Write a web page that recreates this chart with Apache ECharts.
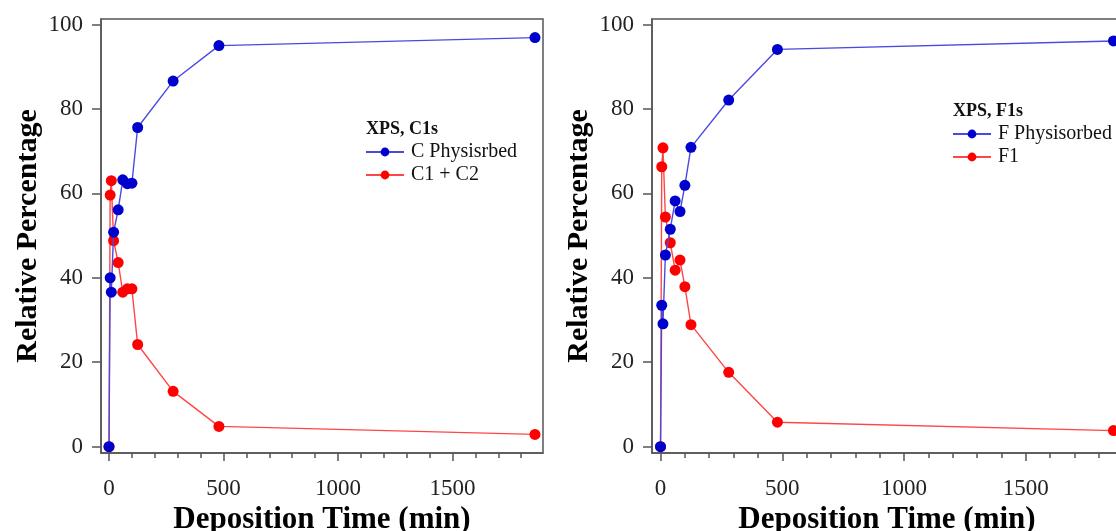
<!DOCTYPE html>
<html>
<head>
<meta charset="utf-8">
<script src="https://cdn.jsdelivr.net/npm/echarts@6/dist/echarts.min.js"></script>
<style>
  html, body { margin: 0; padding: 0; background: #fff; }
  #chart { width: 1116px; height: 531px; }
</style>
</head>
<body>
<div id="chart"></div>
<script>
// Deposition times (min), shared by both panels
const times = [0, 5, 10, 20, 40, 60, 80, 100, 125, 280, 480, 1860];

// XPS C1s panel
const c1sTitle = 'XPS, C1s';
const c1sPhysName = 'C Physisrbed';
const c1sPhys = [0, 40.0, 36.6, 50.8, 56.1, 63.2, 62.3, 62.4, 75.6, 86.6, 95.0, 96.9];
const c1sChemName = 'C1 + C2';
const c1sChem = [0, 59.6, 63.0, 48.8, 43.6, 36.6, 37.4, 37.4, 24.2, 13.1, 4.8, 2.9];

// XPS F1s panel
const f1sTitle = 'XPS, F1s';
const f1sPhysName = 'F Physisorbed';
const f1sPhys = [0, 33.5, 29.1, 45.4, 51.5, 58.2, 55.7, 61.9, 70.9, 82.1, 94.1, 96.1];
const f1sChemName = 'F1';
const f1sChem = [0, 66.3, 70.8, 54.4, 48.3, 41.8, 44.2, 37.9, 28.9, 17.6, 5.8, 3.8];

// Axis ticks
const xMajorTicks = [0, 500, 1000, 1500];
const xMinorTicks = [100, 200, 300, 400, 600, 700, 800, 900, 1100, 1200, 1300, 1400, 1600, 1700, 1800];
const yTicks = [0, 20, 40, 60, 80, 100];
const xTitle = 'Deposition Time (min)';
const yTitle = 'Relative Percentage';

const SERIF = '"Liberation Serif", "Times New Roman", serif';
const AXIS_COLOR = '#555555';
const BLUE_LINE = '#4a4ae0';
const BLUE_DOT = '#0000cc';
const RED_LINE = '#ff4646';
const RED_DOT = '#ff0000';

const X_MIN = -35, X_MAX = 1895;
const Y_MIN = -1.5, Y_MAX = 101.3;

function pairs(xs, ys) { return xs.map((x, i) => [x, ys[i]]); }

function mainX(gridIndex) {
  return {
    type: 'value', gridIndex, position: 'bottom', min: X_MIN, max: X_MAX,
    name: xTitle, nameLocation: 'middle', nameGap: 50,
    nameTextStyle: { fontFamily: SERIF, fontWeight: 'bold', fontSize: 31, color: '#000' },
    axisLine: { show: true, onZero: false, lineStyle: { color: AXIS_COLOR, width: 1.5 } },
    axisTick: { show: true, inside: false, length: 8, customValues: xMajorTicks, lineStyle: { color: AXIS_COLOR, width: 1.5 } },
    axisLabel: {
      show: true, customValues: xMajorTicks, margin: 24,
      formatter: v => String(v),
      fontFamily: SERIF, fontSize: 23, color: '#222'
    },
    splitLine: { show: false }
  };
}
function minorX(gridIndex) {
  return {
    type: 'value', gridIndex, position: 'bottom', min: X_MIN, max: X_MAX,
    axisLine: { show: false, onZero: false },
    axisTick: { show: true, inside: false, length: 5, customValues: xMinorTicks, lineStyle: { color: AXIS_COLOR, width: 1.5 } },
    axisLabel: { show: false },
    splitLine: { show: false }
  };
}
function mainY(gridIndex) {
  return {
    type: 'value', gridIndex, min: Y_MIN, max: Y_MAX,
    name: yTitle, nameLocation: 'middle', nameGap: 58, nameRotate: 90,
    nameTextStyle: { fontFamily: SERIF, fontWeight: 'bold', fontSize: 30, color: '#000' },
    axisLine: { show: true, onZero: false, lineStyle: { color: AXIS_COLOR, width: 1.5 } },
    axisTick: { show: true, inside: false, length: 9, customValues: yTicks, lineStyle: { color: AXIS_COLOR, width: 1.5 } },
    axisLabel: { show: true, customValues: yTicks, margin: 18, fontFamily: SERIF, fontSize: 23, color: '#222' },
    splitLine: { show: false }
  };
}
function lineSeries(name, xi, yi, ys, lineColor, dotColor, z) {
  return {
    type: 'line', name, xAxisIndex: xi, yAxisIndex: yi,
    data: pairs(times, ys),
    symbol: 'circle', symbolSize: 11, showSymbol: true,
    lineStyle: { color: lineColor, width: 1.4 },
    itemStyle: { color: dotColor },
    z, animation: false
  };
}
function legendBlock(left, top, names) {
  return {
    left, top, orient: 'vertical', itemWidth: 38, itemHeight: 11, itemGap: 3,
    data: names, selectedMode: false,
    textStyle: { fontFamily: SERIF, fontSize: 20, color: '#111', padding: [0, 0, 0, 2] }
  };
}

const chart = echarts.init(document.getElementById('chart'), null, { renderer: 'canvas' });
chart.setOption({
  backgroundColor: '#fff',
  animation: false,
  title: [
    { text: c1sTitle, left: 361, top: 115, textStyle: { fontFamily: SERIF, fontWeight: 'bold', fontSize: 18, color: '#111' } },
    { text: f1sTitle, left: 948, top: 97, textStyle: { fontFamily: SERIF, fontWeight: 'bold', fontSize: 18, color: '#111' } }
  ],
  legend: [
    legendBlock(360, 137, [c1sPhysName, c1sChemName]),
    legendBlock(947, 119, [f1sPhysName, f1sChemName])
  ],
  grid: [
    { left: 101, top: 19, width: 442, height: 434, show: true, borderColor: AXIS_COLOR, borderWidth: 1.5, containLabel: false, outerBoundsMode: 'none' },
    { left: 652, top: 19, width: 470, height: 434, show: true, borderColor: AXIS_COLOR, borderWidth: 1.5, containLabel: false, outerBoundsMode: 'none' }
  ],
  xAxis: [mainX(0), minorX(0), mainX(1), minorX(1)],
  yAxis: [mainY(0), mainY(1)],
  series: [
    lineSeries(c1sPhysName, 0, 0, c1sPhys, BLUE_LINE, BLUE_DOT, 3),
    lineSeries(c1sChemName, 0, 0, c1sChem, RED_LINE, RED_DOT, 2),
    lineSeries(f1sPhysName, 2, 1, f1sPhys, BLUE_LINE, BLUE_DOT, 3),
    lineSeries(f1sChemName, 2, 1, f1sChem, RED_LINE, RED_DOT, 2)
  ]
});
</script>
</body>
</html>
